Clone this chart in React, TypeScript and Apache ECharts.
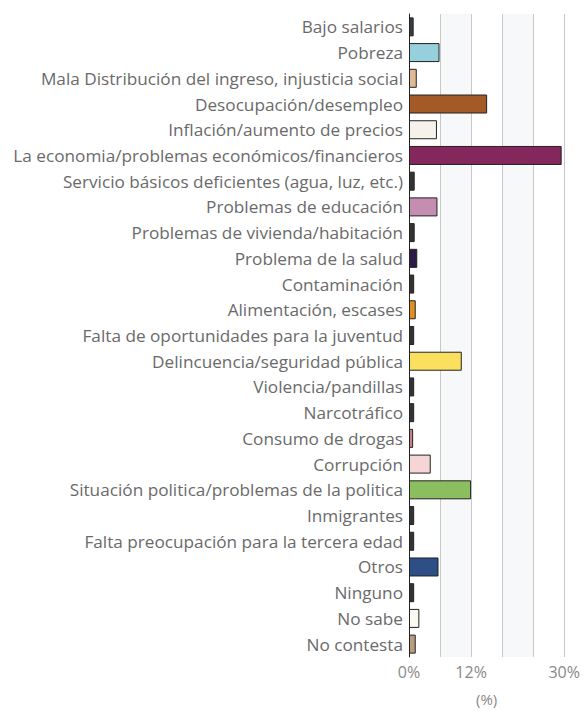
import React, { useEffect, useRef } from "react";
import * as echarts from "echarts";

const categories = [
  "Bajo salarios",
  "Pobreza",
  "Mala Distribución del ingreso, injusticia social",
  "Desocupación/desempleo",
  "Inflación/aumento de precios",
  "La economia/problemas económicos/financieros",
  "Servicio básicos deficientes (agua, luz, etc.)",
  "Problemas de educación",
  "Problemas de vivienda/habitación",
  "Problema de la salud",
  "Contaminación",
  "Alimentación, escases",
  "Falta de oportunidades para la juventud",
  "Delincuencia/seguridad pública",
  "Violencia/pandillas",
  "Narcotráfico",
  "Consumo de drogas",
  "Corrupción",
  "Situación politica/problemas de la politica",
  "Inmigrantes",
  "Falta preocupación para la tercera edad",
  "Otros",
  "Ninguno",
  "No sabe",
  "No contesta",
];

const values = [
  0.9, 5.9, 1.5, 15.1, 5.4, 29.5, 1.1, 5.5, 1.1, 1.6, 1.0, 1.3, 1.0, 10.2,
  1.0, 1.0, 0.8, 4.2, 12.0, 1.0, 1.0, 5.7, 1.0, 2.0, 1.3,
];

const colors = [
  "#3a3d3e", "#96d0dc", "#dfb894", "#a35a27", "#f6f1ea", "#84275c",
  "#333333", "#c58db0", "#333333", "#2e1a47", "#333333", "#e0901e",
  "#333333", "#fbe060", "#333333", "#333333", "#c98088", "#f5d5d5",
  "#8bbe5e", "#333333", "#333333", "#2d4f86", "#333333", "#fbf8f0",
  "#b89c80",
];

const shownTicks = [0, 12, 30];

export default function App() {
  const ref = useRef<HTMLDivElement>(null);
  useEffect(() => {
    if (!ref.current) return;
    const chart = echarts.init(ref.current, null, { renderer: "svg" });
    chart.setOption({
      animation: false,
      grid: { left: 409, right: 15, top: 14, bottom: 49 },
      xAxis: {
        type: "value",
        min: 0,
        max: 30,
        interval: 6,
        name: "(%)",
        nameLocation: "middle",
        nameGap: 34,
        nameTextStyle: { color: "#888", fontSize: 15, fontFamily: "Open Sans" },
        axisLine: { show: false },
        axisTick: { show: false },
        axisLabel: {
          color: "#888",
          fontSize: 16,
          fontFamily: "Open Sans",
          margin: 7,
          formatter: (v: number) => (shownTicks.includes(v) ? v + "%" : ""),
        },
        splitLine: { show: true, lineStyle: { color: "#c8c8c8", width: 1 } },
        splitArea: { show: true, areaStyle: { color: ["rgba(255,255,255,0)", "#f7f8fa"] } },
      },
      yAxis: {
        type: "category",
        data: categories,
        inverse: true,
        axisLine: { show: true, lineStyle: { color: "#222", width: 1 } },
        axisTick: { show: false },
        axisLabel: { color: "#6a6a6a", fontSize: 17.2, fontFamily: "Open Sans", margin: 6 },
      },
      series: [
        {
          type: "bar",
          barWidth: 19,
          data: values.map((v, i) => ({
            value: v,
            itemStyle: { color: colors[i], borderColor: "#222", borderWidth: 1 },
          })),
        },
      ],
    });
    return () => chart.dispose();
  }, []);
  return <div ref={ref} style={{ width: 583, height: 711, position: "absolute", left: 0, top: 0 }} />;
}
